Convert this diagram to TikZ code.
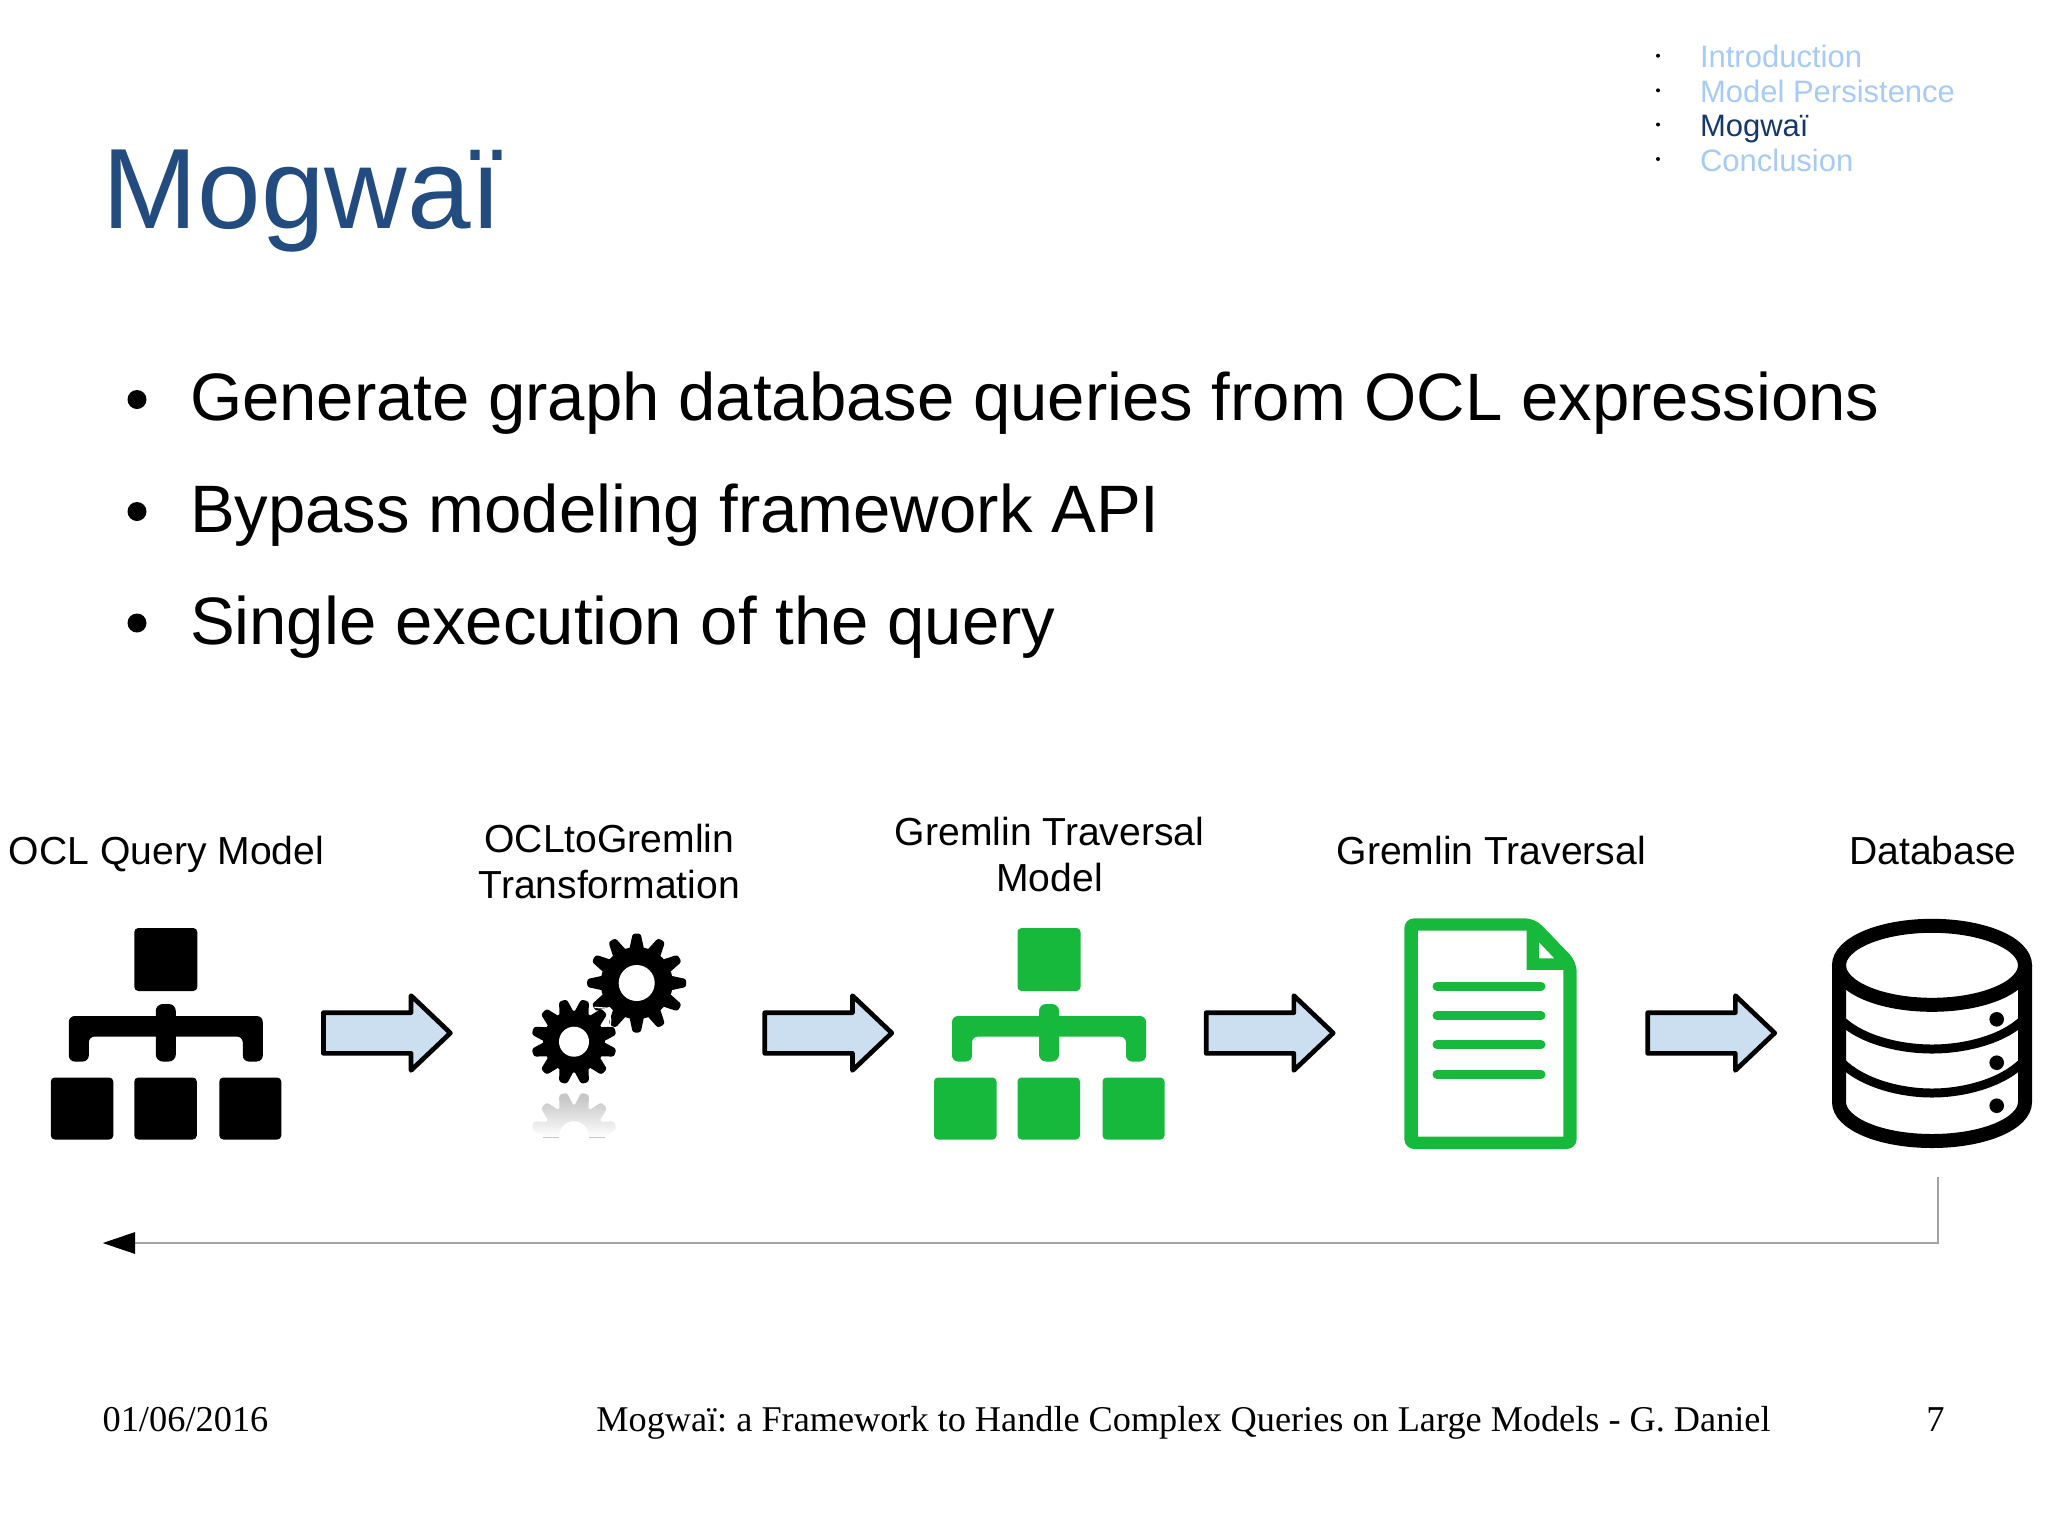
\documentclass[tikz,border=0pt]{standalone}
\usepackage{fontspec}
\setmainfont{Liberation Sans}
\newfontfamily\footface{Liberation Serif}
\usetikzlibrary{arrows.meta,shapes.arrows,fadings}
\frenchspacing

\definecolor{titleblue}{HTML}{224B80}
\definecolor{fadedblue}{HTML}{A6CBF7}
\definecolor{activeblue}{HTML}{17386B}
\definecolor{arrowblue}{HTML}{CCDFF1}
\definecolor{icongreen}{HTML}{17B93C}
\definecolor{linegray}{HTML}{A3A3A6}

\tikzset{
  txt/.style={inner sep=0pt,outer sep=0pt,anchor=base west},
  bigtitle/.style={txt,text=titleblue,font=\fontsize{114.2}{130}\selectfont},
  bullettxt/.style={txt,font=\fontsize{67.1}{80}\selectfont},
  menutxt/.style={txt,font=\fontsize{31}{36}\selectfont},
  steptxt/.style={inner sep=0pt,outer sep=0pt,anchor=base,align=center,font=\fontsize{39.1}{46}\selectfont},
  foottxt/.style={inner sep=0pt,outer sep=0pt,anchor=base,font=\footface\fontsize{36.4}{44}\selectfont},
  flowarrow/.style={single arrow,draw=black,fill=arrowblue,line width=4.7pt,line join=round,
    single arrow head extend=17pt,single arrow tip angle=87,single arrow head indent=0pt,
    inner ysep=18pt,inner xsep=0pt,minimum height=127pt,outer sep=0pt,anchor=tail},
  backline/.style={draw=linegray,line width=1.6pt,-{Triangle[black,length=32.3pt,width=21.4pt]}},
  dbline/.style={draw=black,line width=14pt},
  pics/orgchart/.style={code={
    \fill[#1,rounded corners=4pt] (-31.5,0) rectangle (31.5,63);
    \fill[#1,rounded corners=6pt] (-97,133.5) -- (-97,88) -- (97,88) -- (97,133.5) -- (77,133.5)
      -- (77,108.5) -- (-77,108.5) -- (-77,133.5) -- cycle;
    \fill[#1,rounded corners=7pt] (-10,76) rectangle (10,133.5);
    \fill[#1,rounded corners=4pt] (-115,149.5) rectangle (-52.5,211.5);
    \fill[#1,rounded corners=4pt] (-31.5,149.5) rectangle (31,211.5);
    \fill[#1,rounded corners=4pt] (53.5,149.5) rectangle (115.5,211.5);
  }},
  pics/gear/.style n args={5}{code={
    \fill[#5] (0,0) circle (#1);
    \foreach \a in {0,30,...,330}
      \fill[#5,rotate=\a+#4,rounded corners=2.5pt] (#1-3,-7.5) -- (#2,-4) -- (#2,4) -- (#1-3,7.5) -- cycle;
    \fill[white] (0,0) circle (#3);
  }},
}

\begin{document}
\begin{tikzpicture}[x=1pt,y=-1pt]
\fill[white] (0,0) rectangle (2048,1535);
\useasboundingbox (0,0) rectangle (2048,1535);

%menu
\foreach \name/\lbl/\col/\ypos in {intro/Introduction/fadedblue/67.7,persist/Model Persistence/fadedblue/102.3,mogwai/Mogwaï/activeblue/136.5,concl/Conclusion/fadedblue/171}{
  \fill (1658,\ypos-12) circle (2);
  \node[menutxt,text=\col] (\name) at (1700,\ypos) {\lbl};
}

%title and bullets
\node[bigtitle] (title) at (102.5,228) {Mogwaï};
\foreach \name/\lbl/\ypos in {one/Generate graph database queries from OCL expressions/420.5,two/Bypass modeling framework API/532.5,three/Single execution of the query/644}{
  \fill (137,\ypos-21) circle (9.5);
  \node[bullettxt] (\name) at (190,\ypos) {\lbl};
}

%labels
\node[steptxt] (oclmodel) at (166.5,864) {OCL Query Model};
\node[steptxt] (ocltogremlin) at (609.3,898) {OCLtoGremlin\\Transformation};
\node[steptxt] (gremlinmodel) at (1049.5,891) {Gremlin Traversal\\Model};
\node[steptxt] (gremlin) at (1491.2,864) {Gremlin Traversal};
\node[steptxt] (database) at (1933,864) {Database};

%model icons
\pic at (165.8,928) {orgchart=black};
\pic at (1049,928) {orgchart=icongreen};

%gears
\begin{scope}
\clip (520,1090) rectangle (630,1137);
\pic[yscale=1.05] at (574,1137) {gear={31}{42.7}{15}{15}{black!22}};
\fill[white,path fading=north] (520,1098) rectangle (630,1137);
\end{scope}
\pic at (636.7,983) {gear={36}{49.5}{18}{0}{black}};
\pic at (574,1041.7) {gear={31}{42.7}{15}{15}{black}};
\draw[white,line width=1.3pt] (594.3,1007.3) -- (608.3,1008.3) -- (610.7,1020) -- (610,1026.7);

%document
\fill[icongreen,rounded corners=10pt] (1404.3,918.3) -- (1535,918.3) -- (1576.7,961.7) -- (1576.7,1149) -- (1404.3,1149) -- cycle;
\fill[white] (1418,930.7) -- (1526.7,930.7) -- (1526.7,970) -- (1563.3,970) -- (1563.3,1136.7) -- (1418,1136.7) -- cycle;
\fill[white] (1539,942.3) -- (1539,958.3) -- (1554,958.3) -- cycle;
\foreach \ypos in {986,1015.7,1044.7,1074.3}
  \draw[icongreen,line width=9pt,line cap=round] (1437,\ypos) -- (1541,\ypos);

%database
\draw[dbline] (1932,965.3) ellipse [x radius=93,y radius=39.5];
\draw[dbline] (1839,965) -- (1839,1102) .. controls (1839,1123.5) and (1880,1141) .. (1932,1141)
  .. controls (1984,1141) and (2025,1123.5) .. (2025,1102) -- (2025,965);
\draw[black,line width=9pt] (1841,1020) .. controls (1862,1040) and (1900,1049) .. (1932,1049)
  .. controls (1964,1049) and (2002,1040) .. (2023,1020);
\draw[black,line width=9pt] (1841,1062) .. controls (1862,1083) and (1900,1093) .. (1932,1093)
  .. controls (1964,1093) and (2002,1083) .. (2023,1062);
\foreach \ypos in {1019.3,1062.7,1105.7}
  \fill (1996.7,\ypos) circle (7.3);

%arrows between steps
\foreach \name/\xpos in {arra/323.4,arrb/764.8,arrc/1206.2,arrd/1647.7}
  \node[flowarrow] (\name) at (\xpos,1033) {};

%way back
\coordinate (dbout) at (1938,1177);
\coordinate (queryin) at (102.7,1243);
\draw[backline] (dbout) |- (queryin);

%footer
\node[foottxt] (date) at (185.5,1431) {01/06/2016};
\node[foottxt,font=\footface\fontsize{36.25}{44}\selectfont] (talk) at (1183.5,1431) {Mogwaï: a Framework to Handle Complex Queries on Large Models - G. Daniel};
\node[foottxt] (page) at (1935.5,1431) {7};

\end{tikzpicture}
\end{document}
